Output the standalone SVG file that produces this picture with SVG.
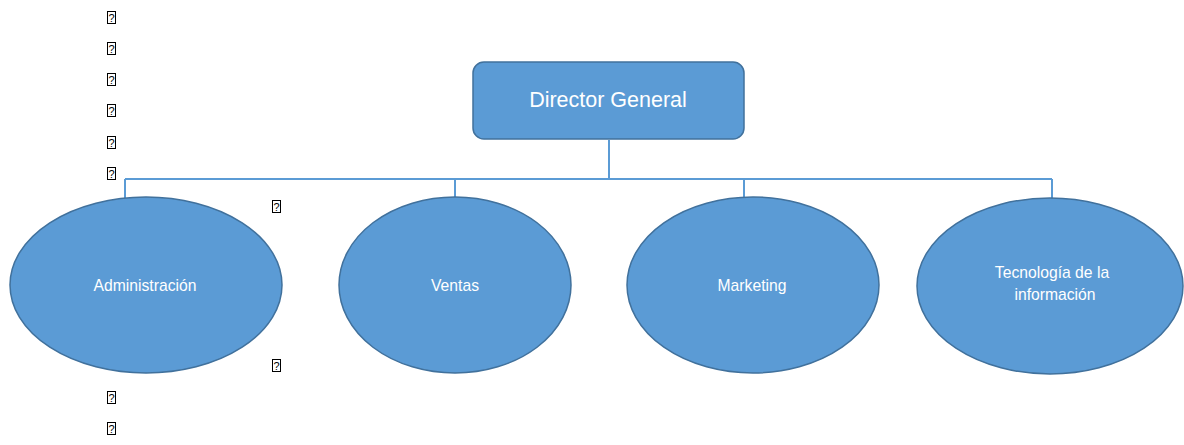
<svg xmlns="http://www.w3.org/2000/svg" width="1184" height="445" viewBox="0 0 1184 445">
  <style>
    .shape { fill: #5B9BD5; stroke: #41719C; stroke-width: 1.5; }
    .label { fill: #FFFFFF; font-family: "Liberation Sans", Arial, sans-serif; text-anchor: middle; font-size: 15.7px; }
    .link { fill: none; stroke: #5B9BD5; stroke-width: 2; }
  </style>
  <defs>
    <!-- box shown for a character the font lacks -->
    <g id="missing">
      <rect x="0.5" y="0.5" width="8" height="12" fill="#FFFFFF" stroke="#000000" stroke-width="1"/>
      <text x="4.5" y="10.5" fill="#000000" font-family="Liberation Sans, Arial, sans-serif" font-size="11" text-anchor="middle">?</text>
    </g>
  </defs>
  <rect width="1184" height="445" fill="#FFFFFF"/>

  <g id="bullets">
    <use href="#missing" x="107" y="11"/>
    <use href="#missing" x="107" y="42"/>
    <use href="#missing" x="107" y="73"/>
    <use href="#missing" x="107" y="104"/>
    <use href="#missing" x="107" y="136"/>
    <use href="#missing" x="107" y="167"/>
    <use href="#missing" x="272" y="200"/>
    <use href="#missing" x="272" y="359"/>
    <use href="#missing" x="107" y="391"/>
    <use href="#missing" x="107" y="422"/>
  </g>

  <!-- connectors -->
  <g id="connectors" class="link">
    <path d="M609 140 V179"/>
    <path d="M125 179 H1052"/>
    <path d="M125 179 V198"/>
    <path d="M455 179 V198"/>
    <path d="M744 179 V198"/>
    <path d="M1052 179 V199"/>
  </g>

  <g id="director">
    <rect class="shape" x="473" y="62" width="271" height="77" rx="11"/>
    <text class="label" x="608" y="107" style="font-size:21.5px">Director General</text>
  </g>

  <g id="administracion">
    <ellipse class="shape" cx="146" cy="285" rx="136" ry="88"/>
    <text class="label" x="145" y="291">Administración</text>
  </g>

  <g id="ventas">
    <ellipse class="shape" cx="455" cy="285" rx="116" ry="88"/>
    <text class="label" x="455" y="291">Ventas</text>
  </g>

  <g id="marketing">
    <ellipse class="shape" cx="753" cy="285" rx="126" ry="88"/>
    <text class="label" x="752" y="291">Marketing</text>
  </g>

  <g id="tecnologia">
    <ellipse class="shape" cx="1050" cy="286" rx="133" ry="88"/>
    <text class="label" x="1052" y="278">Tecnología de la</text>
    <text class="label" x="1055" y="300">información</text>
  </g>
</svg>
